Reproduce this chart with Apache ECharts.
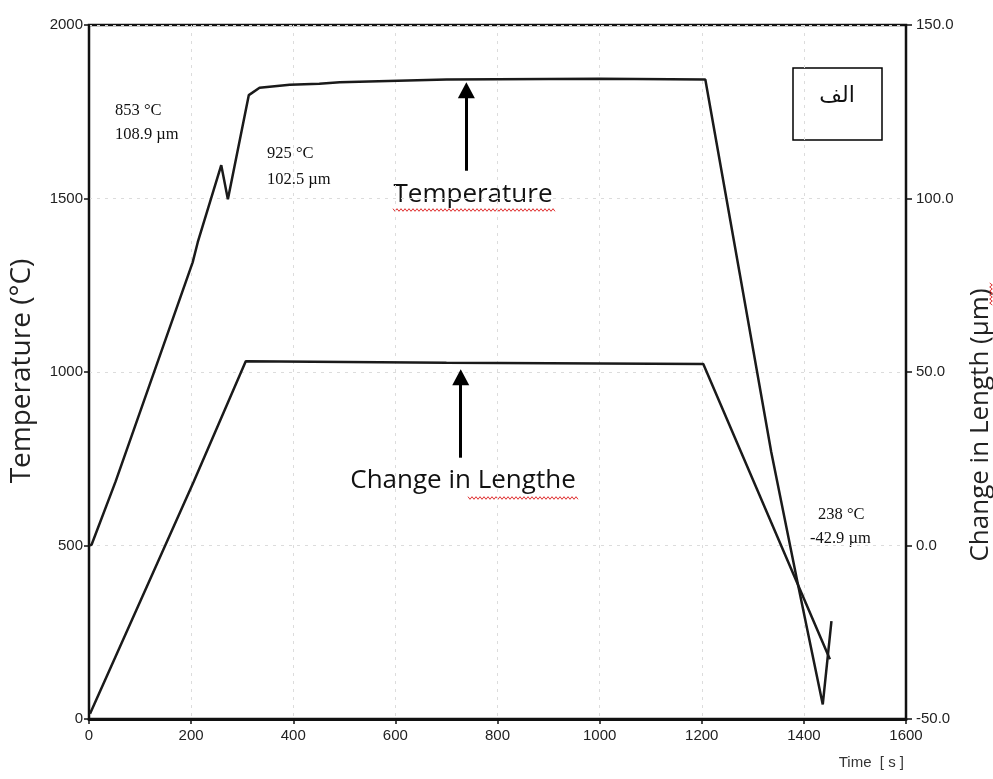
<!DOCTYPE html>
<html><head><meta charset="utf-8">
<script src="https://cdn.jsdelivr.net/npm/echarts@6/dist/echarts.min.js"></script>
<style>html,body{margin:0;padding:0;background:#fff}#c{width:993px;height:779px}</style>
</head><body><div id="c"></div>
<script>
// Time axis (s)
const timeMin = 0, timeMax = 1600, timeStep = 200;
// Temperature (°C), left axis
const tempMin = 0, tempMax = 2000, tempStep = 500;
// Change in length (µm), right axis
const lenMin = -50, lenMax = 150, lenStep = 50;

// Temperature curve
const tempTime  = [0, 5, 52, 203, 213, 259, 272, 313, 334, 393, 451, 491, 700, 1000, 1207, 1274, 1336, 1386, 1437, 1454];
const tempValue = [500, 502, 684, 1316, 1374, 1596, 1498, 1798, 1819, 1828, 1831, 1835, 1843, 1845, 1843, 1287, 770, 405, 42, 282];

// Change-in-length curve
const lenTime  = [2, 205, 307, 700, 1203, 1451];
const lenValue = [-48.5, 18.4, 53.1, 52.7, 52.3, -32.8];

// Arrow annotations (time, from value, to value) in left-axis units
const arrowTemp = [739, 1580, 1812];
const arrowLen  = [728, 753, 985];

const tempData = tempTime.map((t, i) => [t, tempValue[i]]);
const lenData = lenTime.map((t, i) => [t, lenValue[i]]);

function squiggle(x0, x1, y) {
  const pts = [];
  let up = true;
  for (let x = x0; x <= x1; x += 2) { pts.push([x, y + (up ? -1.3 : 1.3)]); up = !up; }
  return pts;
}
function vsquiggle(x, y0, y1) {
  const pts = [];
  let up = true;
  for (let y = y0; y <= y1; y += 2) { pts.push([x + (up ? -1.3 : 1.3), y]); up = !up; }
  return pts;
}

const labelFont = 'Liberation Sans';
const titleFont = '26px "Open Sans"';
const serifFont = '16.5px "Liberation Serif"';

const chart = echarts.init(document.getElementById('c'), null, {renderer: 'canvas'});
chart.setOption({
  animation: false,
  backgroundColor: '#fff',
  grid: {left: 89, right: 87, top: 25, bottom: 60, show: true, borderColor: '#111', borderWidth: 2.5,
         containLabel: false, outerBoundsMode: 'none'},
  xAxis: {
    type: 'value', min: timeMin, max: timeMax, interval: timeStep,
    axisLine: {lineStyle: {color: '#111', width: 3}},
    axisTick: {show: true, length: 5, lineStyle: {color: '#111', width: 1.5}},
    axisLabel: {color: '#222', fontSize: 15, fontFamily: labelFont, margin: 9, formatter: v => String(v)},
    splitLine: {show: true, lineStyle: {color: '#dcdcdc', type: [3, 5], width: 1}}
  },
  yAxis: [{
    type: 'value', min: tempMin, max: tempMax, interval: tempStep,
    axisLine: {show: true, lineStyle: {color: '#111', width: 2}},
    axisTick: {show: true, length: 5, lineStyle: {color: '#111', width: 1.5}},
    axisLabel: {color: '#222', fontSize: 15, fontFamily: labelFont, margin: 6, formatter: v => String(v)},
    splitLine: {show: true, lineStyle: {color: '#dcdcdc', type: [3, 5], width: 1}}
  }, {
    type: 'value', min: lenMin, max: lenMax, interval: lenStep, position: 'right',
    axisLine: {show: true, lineStyle: {color: '#111', width: 2}},
    axisTick: {show: true, length: 6, lineStyle: {color: '#111', width: 1.5}},
    axisLabel: {color: '#222', fontSize: 15, fontFamily: labelFont, margin: 10, formatter: v => v.toFixed(1)},
    splitLine: {show: false}
  }],
  series: [{
    name: 'Temperature', type: 'line', yAxisIndex: 0, data: tempData,
    showSymbol: false, smooth: false,
    lineStyle: {color: '#1a1a1a', width: 2.5},
    markLine: {
      silent: true, symbol: ['none', 'triangle'], symbolSize: [17, 16],
      label: {show: false},
      lineStyle: {color: '#000', width: 3, type: 'solid'},
      data: [
        [{coord: [arrowTemp[0], arrowTemp[1]]}, {coord: [arrowTemp[0], arrowTemp[2]]}],
        [{coord: [arrowLen[0], arrowLen[1]]}, {coord: [arrowLen[0], arrowLen[2]]}]
      ]
    }
  }, {
    name: 'Change in Length', type: 'line', yAxisIndex: 1, data: lenData,
    showSymbol: false, smooth: false,
    lineStyle: {color: '#1a1a1a', width: 2.5}
  }],
  graphic: [
    {type: 'text', left: 115, top: 102, style: {text: '853 °C', font: serifFont, fill: '#111'}},
    {type: 'text', left: 115, top: 126, style: {text: '108.9 µm', font: serifFont, fill: '#111'}},
    {type: 'text', left: 267, top: 145, style: {text: '925 °C', font: serifFont, fill: '#111'}},
    {type: 'text', left: 267, top: 171, style: {text: '102.5 µm', font: serifFont, fill: '#111'}},
    {type: 'text', left: 818, top: 506, style: {text: '238 °C', font: serifFont, fill: '#111'}},
    {type: 'text', left: 810, top: 530, style: {text: '-42.9 µm', font: serifFont, fill: '#111'}},
    {type: 'rect', shape: {x: 793, y: 68, width: 89, height: 72}, style: {fill: '#fff', stroke: '#000', lineWidth: 1.5}},
    {type: 'text', x: 837, y: 96, style: {text: 'الف', font: '22px "DejaVu Sans"', fill: '#111', textAlign: 'center', textVerticalAlign: 'middle'}},
    {type: 'text', x: 473, y: 195, style: {text: 'Temperature', font: titleFont, fill: '#111', textAlign: 'center', textVerticalAlign: 'middle'}},
    {type: 'text', x: 463, y: 481, style: {text: 'Change in Lengthe', font: titleFont, fill: '#111', textAlign: 'center', textVerticalAlign: 'middle'}},
    {type: 'text', x: 22, y: 371, rotation: Math.PI / 2, style: {text: 'Temperature (°C)', font: '28px "Open Sans"', fill: '#222', textAlign: 'center', textVerticalAlign: 'middle'}},
    {type: 'text', x: 981, y: 425, rotation: Math.PI / 2, style: {text: 'Change in Length (µm)', font: titleFont, fill: '#222', textAlign: 'center', textVerticalAlign: 'middle'}},
    {type: 'text', x: 904, y: 763, style: {text: 'Time  [ s ]', font: '15px "Liberation Sans"', fill: '#333', textAlign: 'right', textVerticalAlign: 'middle'}},
    {type: 'polyline', shape: {points: squiggle(393, 555, 210)}, style: {stroke: '#e03030', lineWidth: 1, fill: null}},
    {type: 'polyline', shape: {points: squiggle(468, 578, 498)}, style: {stroke: '#e03030', lineWidth: 1, fill: null}},
    {type: 'polyline', shape: {points: vsquiggle(991, 283, 305)}, style: {stroke: '#e03030', lineWidth: 1, fill: null}}
  ]
});
</script></body></html>
